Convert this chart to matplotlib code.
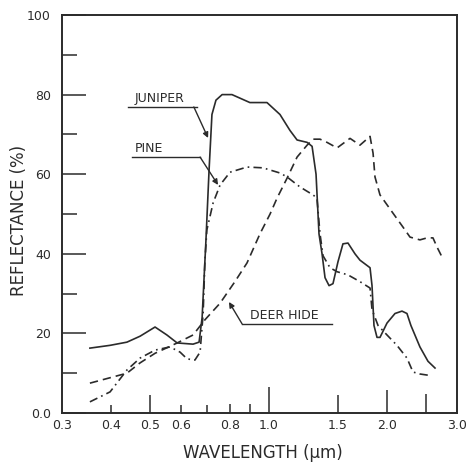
import matplotlib
matplotlib.use("Agg")
import matplotlib.pyplot as plt
from matplotlib.ticker import NullLocator

# wavelength (um) and reflectance (%)
wl_juniper = [0.353, 0.397, 0.438, 0.473, 0.516, 0.553, 0.587, 0.644, 0.667,
              0.679, 0.686, 0.694, 0.707, 0.719, 0.736, 0.763, 0.808, 0.897,
              0.991, 1.069, 1.133, 1.181, 1.252, 1.289, 1.319, 1.342, 1.366,
              1.390, 1.423, 1.456, 1.499, 1.543, 1.589, 1.655, 1.704, 1.807,
              1.828, 1.849, 1.882, 1.915, 1.995, 2.090, 2.177, 2.241, 2.293,
              2.417, 2.533, 2.639]
ref_juniper = [16.3, 17.0, 17.8, 19.3, 21.6, 19.6, 17.6, 17.3, 17.8,
               24.0, 33.0, 43.0, 61.0, 75.0, 78.6, 80.0, 80.0, 78.0,
               78.0, 75.0, 71.0, 68.6, 68.0, 67.0, 60.0, 45.0, 40.0,
               34.0, 32.0, 32.5, 38.0, 42.5, 42.7, 40.0, 38.4, 36.5,
               32.0, 22.0, 19.0, 19.0, 22.6, 25.0, 25.6, 25.0, 22.0,
               16.6, 13.0, 11.3]

wl_pine = [0.353, 0.397, 0.438, 0.473, 0.516, 0.563, 0.597, 0.622, 0.651,
           0.671, 0.683, 0.690, 0.698, 0.724, 0.754, 0.799, 0.882, 0.968,
           1.069, 1.114, 1.201, 1.296, 1.326, 1.350, 1.374, 1.431, 1.491,
           1.589, 1.704, 1.807, 1.828, 1.893, 1.995, 2.114, 2.241, 2.321,
           2.417, 2.533]
ref_pine = [2.8, 5.3, 10.8, 13.8, 15.8, 16.6, 15.3, 13.6, 13.3,
            15.3, 25.0, 38.0, 46.0, 52.8, 57.3, 60.5, 61.8, 61.6,
            60.3, 59.3, 56.8, 54.8, 54.0, 45.0, 39.5, 36.5, 35.5,
            34.7, 33.0, 31.4, 26.0, 22.0, 19.6, 17.0, 13.8, 10.3,
            9.8, 9.5]

wl_deer = [0.353, 0.438, 0.473, 0.516, 0.587, 0.644, 0.690, 0.754, 0.822,
           0.882, 0.951, 1.009, 1.051, 1.114, 1.181, 1.252, 1.296, 1.350,
           1.406, 1.491, 1.608, 1.704, 1.807, 1.839, 1.860, 1.915, 2.066,
           2.190, 2.281, 2.417, 2.519, 2.608, 2.670, 2.749]
ref_deer = [7.5, 10.0, 12.6, 15.0, 17.6, 19.6, 23.4, 27.6, 33.0,
            37.7, 45.0, 50.0, 54.0, 59.0, 64.3, 67.3, 68.8, 68.8,
            68.0, 66.6, 69.0, 67.3, 69.5, 65.3, 59.3, 54.8, 50.2,
            46.7, 44.2, 43.5, 44.0, 44.0, 41.7, 39.2]

# axis ticks
x_ticks = [0.3, 0.4, 0.5, 0.6, 0.7, 0.8, 0.9, 1.0, 1.5, 2.0, 2.5, 3.0]
x_labels = ["0.3", "0.4", "0.5", "0.6", "", "0.8", "", "1.0", "1.5", "2.0", "", "3.0"]
y_ticks = [0, 20, 40, 60, 80, 100]
y_labels = ["0.0", "20", "40", "60", "80", "100"]
y_minor = [10, 30, 50, 70, 90]

INK = "#2b2b2b"


def main():
    fig = plt.figure(figsize=(4.74, 4.63), dpi=100)
    ax = fig.add_axes([62/474, 50/463, 395/474, 398/463])

    ax.plot(wl_juniper, ref_juniper, color=INK, lw=1.2, ls="-")
    ax.plot(wl_pine, ref_pine, color=INK, lw=1.2, ls=(0, (5, 2.5, 1, 2.5)))
    ax.plot(wl_deer, ref_deer, color=INK, lw=1.2, ls=(0, (5, 3)))

    ax.set_xscale("log")
    ax.set_xlim(0.3, 3.0)
    ax.set_ylim(0, 100)

    ax.set_xticks(x_ticks)
    ax.set_xticklabels(x_labels)
    ax.xaxis.set_minor_locator(NullLocator())
    ax.set_yticks(y_ticks)
    ax.set_yticklabels(y_labels)
    ax.set_yticks(y_minor, minor=True)

    ax.tick_params(axis="both", which="both", direction="in", colors=INK,
                   labelsize=9, width=1.1)
    ax.tick_params(axis="x", pad=4)
    ax.tick_params(axis="y", which="major", length=17, pad=8)
    ax.tick_params(axis="y", which="minor", length=11)

    # hand drawn ticks on the wavelength axis have different lengths
    x_tick_len = [0, 6, 13, 6, 6, 6.5, 6.5, 19, 13, 16.5, 14, 0]
    for tick, ln in zip(ax.xaxis.get_major_ticks(), x_tick_len):
        tick.tick1line.set_markersize(ln)

    for s in ax.spines.values():
        s.set_linewidth(1.4)
        s.set_color(INK)

    # labels with underline and arrow
    kw = dict(fontsize=9, color=INK, va="bottom", ha="left")
    akw = dict(arrowstyle="-|>", color=INK, lw=1.0, mutation_scale=8,
               shrinkA=0, shrinkB=0)

    ax.text(0.459, 77.3, "JUNIPER", **kw)
    ax.plot([0.441, 0.659], [76.9, 76.9], color=INK, lw=1.0)
    ax.annotate("", xy=(0.703, 69.1), xytext=(0.647, 76.9), arrowprops=akw)

    ax.text(0.459, 64.7, "PINE", **kw)
    ax.plot([0.451, 0.671], [64.3, 64.3], color=INK, lw=1.0)
    ax.annotate("", xy=(0.745, 57.3), xytext=(0.671, 64.3), arrowprops=akw)

    ax.text(0.897, 22.8, "DEER HIDE", **kw)
    ax.plot([0.857, 1.448], [22.4, 22.4], color=INK, lw=1.0)
    ax.annotate("", xy=(0.794, 27.9), xytext=(0.857, 22.4), arrowprops=akw)

    fig.text(263/474, 1 - 453/463, "WAVELENGTH (\u03bcm)", fontsize=12,
             color=INK, ha="center", va="center")
    fig.text(19/474, 1 - 220/463, "REFLECTANCE (%)", fontsize=12,
             color=INK, ha="center", va="center", rotation=90)

    fig.savefig("out.png", dpi=100)


if __name__ == "__main__":
    main()
